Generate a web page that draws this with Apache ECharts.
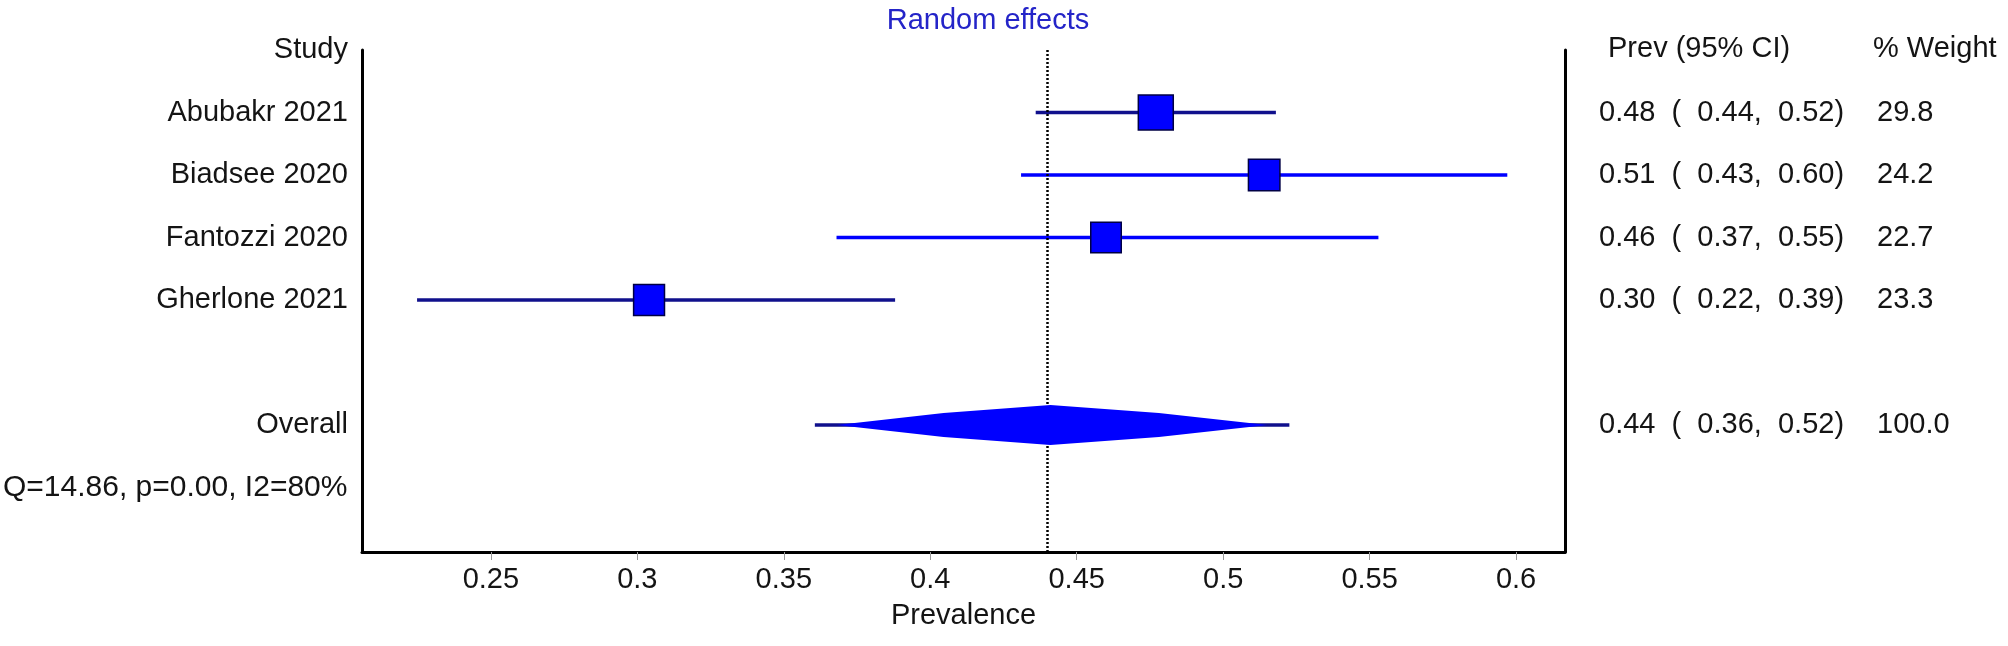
<!DOCTYPE html>
<html>
<head>
<meta charset="utf-8">
<script src="https://cdn.jsdelivr.net/npm/echarts@6.0.0/dist/echarts.min.js"></script>
<style>
  html, body { margin: 0; padding: 0; background: #ffffff; }
  #chart { width: 2008px; height: 646px; }
</style>
</head>
<body>
<div id="chart"></div>
<script>
// ---- Data ----
const studies  = ['Abubakr 2021', 'Biadsee 2020', 'Fantozzi 2020', 'Gherlone 2021'];
const prev     = [0.477, 0.514, 0.460, 0.304];
const ciLow    = [0.436, 0.431, 0.368, 0.2248];
const ciHigh   = [0.518, 0.597, 0.553, 0.388];
const weights  = [29.8, 24.2, 22.7, 23.3];
const studyRows = [1, 2, 3, 4];

const overallLabel = 'Overall';
const overallRow   = 6;
const overallPrev  = 0.441;
const overallLow   = 0.3606;
const overallHigh  = 0.5226;

const heteroQ  = 14.86;
const heteroP  = 0.00;
const heteroI2 = 80;
const heteroRow = 7;

const xTicks = [0.25, 0.3, 0.35, 0.4, 0.45, 0.5, 0.55, 0.6];
const xMin = 0.206, xMax = 0.6167;
const yMin = 0, yMax = 8.032;

const headerStudy = 'Study';
const headerPrev = 'Prev (95% CI)';
const headerWeight = '% Weight';
const titleText = 'Random effects';
const xName = 'Prevalence';

// ---- Styles ----
const FONT = '"Liberation Sans", Arial, sans-serif';
const FS = 29;
const ciColors = ['#10108c', '#0000ff', '#0000ff', '#10108c'];
const squareScale = 6.4;

const rowLabels = {0: headerStudy, 6: overallLabel};
studies.forEach((s, i) => { rowLabels[studyRows[i]] = s; });

function ciText(e, l, h) {
  return e.toFixed(2) + '  (  ' + l.toFixed(2) + ',  ' + h.toFixed(2) + ')';
}

const studyData = studies.map((s, i) => [prev[i], studyRows[i], ciLow[i], ciHigh[i], weights[i]]);
const totalWeight = weights.reduce((a, b) => a + b, 0);

const chart = echarts.init(document.getElementById('chart'), null, {renderer: 'canvas'});

function textEl(x, y, text, align, size) {
  return {
    type: 'text', x: x, y: y,
    style: { text: text, fill: '#141414', fontSize: size || FS, fontFamily: FONT,
             align: align || 'left', verticalAlign: 'middle' }
  };
}

chart.setOption({
  animation: false,
  backgroundColor: '#ffffff',
  grid: { left: 362, right: 443, top: 50, bottom: 94 },
  title: {
    text: titleText, left: 983, top: 1, textAlign: 'center',
    textStyle: { color: '#2424c8', fontSize: FS, fontWeight: 'normal', fontFamily: FONT }
  },
  xAxis: {
    type: 'value', min: xMin, max: xMax, position: 'bottom',
    name: xName, nameLocation: 'middle', nameGap: 49,
    nameTextStyle: { color: '#141414', fontSize: FS, fontFamily: FONT },
    axisLine: { show: true, onZero: false, lineStyle: { color: '#000', width: 3 } },
    axisTick: { show: true, length: 8, customValues: xTicks, lineStyle: { color: '#999', width: 1 } },
    axisLabel: { customValues: xTicks, margin: 13, color: '#141414', fontSize: FS, fontFamily: FONT,
                 formatter: v => String(v) },
    splitLine: { show: false }
  },
  yAxis: [{
    type: 'value', inverse: true, min: yMin, max: yMax, position: 'left',
    axisLine: { show: true, onZero: false, lineStyle: { color: '#000', width: 3 } },
    axisTick: { show: false },
    axisLabel: { customValues: Object.keys(rowLabels).map(Number), margin: 14, color: '#141414',
                 fontSize: FS, fontFamily: FONT, formatter: v => rowLabels[v] || '' },
    splitLine: { show: false }
  }, {
    type: 'value', inverse: true, min: yMin, max: yMax, position: 'right',
    axisLine: { show: true, onZero: false, lineStyle: { color: '#000', width: 3 } },
    axisTick: { show: false }, axisLabel: { show: false }, splitLine: { show: false }
  }],
  series: [{
    type: 'custom',
    name: 'studies',
    z: 2,
    data: studyData,
    encode: { x: [0, 2, 3], y: 1 },
    renderItem: function (params, api) {
      const k = api.value(1);
      const p = api.coord([api.value(0), k]);
      const l = api.coord([api.value(2), k]);
      const h = api.coord([api.value(3), k]);
      const s = squareScale * Math.sqrt(api.value(4));
      const i = params.dataIndex;
      const xr = params.coordSys.x + params.coordSys.width;
      return { type: 'group', children: [
        { type: 'line', shape: { x1: l[0], y1: l[1], x2: h[0], y2: h[1] },
          style: { stroke: ciColors[i], lineWidth: 3.5 } },
        { type: 'rect', shape: { x: p[0] - s / 2, y: p[1] - s / 2, width: s, height: s },
          style: { fill: '#0000ff', stroke: '#000044', lineWidth: 1.5 } },
        textEl(xr + 34, p[1], ciText(api.value(0), api.value(2), api.value(3))),
        textEl(xr + 312, p[1], api.value(4).toFixed(1))
      ]};
    }
  }, {
    type: 'line',
    name: 'pooled line',
    z: 3,
    data: [],
    markLine: {
      z: 3,
      silent: true, symbol: 'none', label: { show: false },
      lineStyle: { color: '#000', type: [2, 2], width: 2.5 },
      data: [{ xAxis: overallPrev }]
    }
  }, {
    type: 'custom',
    name: 'overall',
    z: 6,
    data: [[overallPrev, overallRow, overallLow, overallHigh, totalWeight]],
    encode: { x: [0, 2, 3], y: 1 },
    renderItem: function (params, api) {
      const k = api.value(1);
      const p = api.coord([api.value(0), k]);
      const l = api.coord([api.value(2), k]);
      const h = api.coord([api.value(3), k]);
      const hh = 20;
      const a = l[0] + 22, b = h[0] - 22, c = p[0], y = p[1];
      const xr = params.coordSys.x + params.coordSys.width;
      const pts = [
        [a, y], [a + (c - a) * 0.5, y - hh * 0.6], [c, y - hh], [c + (b - c) * 0.5, y - hh * 0.6],
        [b, y], [c + (b - c) * 0.5, y + hh * 0.6], [c, y + hh], [a + (c - a) * 0.5, y + hh * 0.6]
      ];
      return { type: 'group', children: [
        { type: 'line', shape: { x1: l[0], y1: y, x2: h[0], y2: y },
          style: { stroke: '#10108c', lineWidth: 3.5 } },
        { type: 'polygon', shape: { points: pts }, style: { fill: '#0000ff' } },
        textEl(xr + 34, y, ciText(api.value(0), api.value(2), api.value(3))),
        textEl(xr + 312, y, api.value(4).toFixed(1))
      ]};
    }
  }]
});

// header & heterogeneity text positioned from the axes
const yHead = chart.convertToPixel({ yAxisIndex: 0 }, 0);
const yHet = chart.convertToPixel({ yAxisIndex: 0 }, heteroRow);
const xRight = chart.convertToPixel({ xAxisIndex: 0 }, xMax);
chart.setOption({
  graphic: [
    textEl(xRight + 43, yHead - 1, headerPrev),
    textEl(xRight + 308, yHead - 1, headerWeight),
    textEl(3, yHet, 'Q=' + heteroQ.toFixed(2) + ', p=' + heteroP.toFixed(2) + ', I2=' + heteroI2 + '%', 'left', 30)
  ]
});
</script>
</body>
</html>
